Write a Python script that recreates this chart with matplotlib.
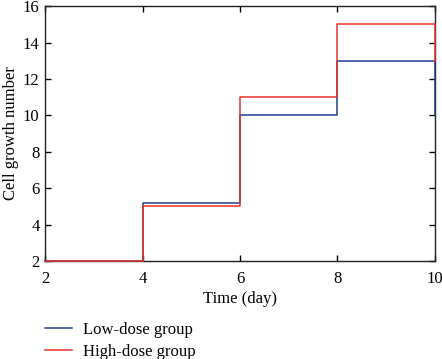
import matplotlib
matplotlib.use("Agg")
import matplotlib.pyplot as plt

# data
days = [2, 4, 6, 8, 10]
low_dose = [2, 5.2, 10, 13, 10]
high_dose = [2, 5, 11, 15, 13]

plt.rcParams['font.family'] = ['Liberation Serif', 'DejaVu Serif']

fig = plt.figure(figsize=(4.42, 3.59), dpi=100)
ax = fig.add_axes([0.102, 0.273, 0.882, 0.71])

ax.step(days, low_dose, where='post', color='#1f3f8f', linewidth=1.1,
        label='Low-dose group', clip_on=False, zorder=3)
ax.step(days, high_dose, where='post', color='#e8332a', linewidth=1.1,
        label='High-dose group', clip_on=False, zorder=3)

ax.set_xlim(2, 10)
ax.set_ylim(2, 16)
ax.set_xticks([2, 4, 6, 8, 10])
ax.set_yticks(range(2, 17, 2))
ax.tick_params(direction='in', top=True, right=True, labelsize=12, length=4, width=1)
ax.tick_params(axis='x', pad=7)
ax.tick_params(axis='y', pad=4)
for sp in ax.spines.values():
    sp.set_color('#222222')
    sp.set_linewidth(1.0)

ax.set_xlabel('Time (day)', fontsize=12, labelpad=3)
ax.set_ylabel('Cell growth number', fontsize=12, labelpad=3)

ax.legend(loc='upper left', bbox_to_anchor=(0.0, -0.24), frameon=False,
          borderpad=0, borderaxespad=0, fontsize=12, handlelength=1.6,
          handletextpad=0.65, labelspacing=0.35)

fig.savefig('out.png', dpi=100)
